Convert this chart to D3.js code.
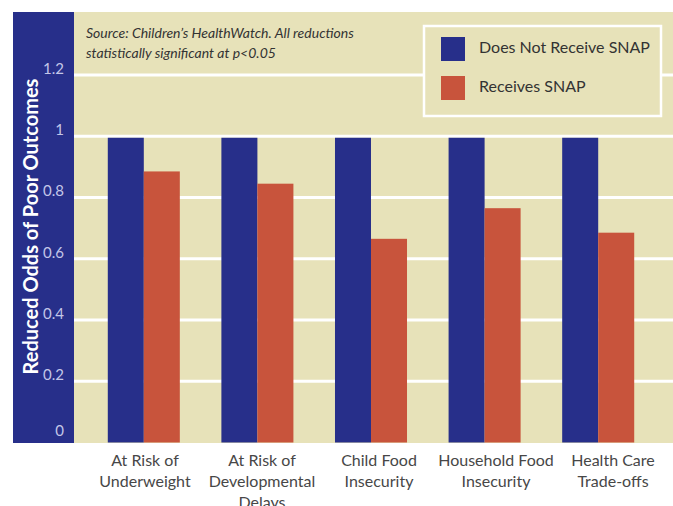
<!DOCTYPE html>
<html><head><meta charset="utf-8">
<script src="https://cdn.jsdelivr.net/npm/d3@7"></script>
<style>
html,body{margin:0;padding:0;background:#fff;}
svg{display:block;}
</style></head>
<body>
<script>
const categories = [
  ["At Risk of","Underweight"],
  ["At Risk of","Developmental","Delays"],
  ["Child Food","Insecurity"],
  ["Household Food","Insecurity"],
  ["Health Care","Trade-offs"]
];
const seriesNames = ["Does Not Receive SNAP","Receives SNAP"];
const notReceiving = [1, 1, 1, 1, 1];
const receiving = [0.89, 0.85, 0.67, 0.77, 0.69];
const yTicks = [0, 0.2, 0.4, 0.6, 0.8, 1, 1.2];
const yTickLabels = ["0","0.2","0.4","0.6","0.8","1","1.2"];
const sourceLines = ["Source: Children\u2019s HealthWatch. All reductions","statistically significant at p<0.05"];
const yTitle = "Reduced Odds of Poor Outcomes";

const W = 673, H = 506;
const navy = "#272f8a", red = "#c8543c", beige = "#e7e2b9";
const panel = {x0: 13, x1: 74, top: 12, bottom: 443};

const svg = d3.select("body").append("svg").attr("width", W).attr("height", H);
const keys = categories.map((c,i)=>i);

const y = d3.scaleLinear().domain([0, 1.2]).range([442.5, 75]);
const x0 = d3.scaleBand().domain(keys).range([87, 655]).paddingInner(0.366).paddingOuter(0.183);
const x1 = d3.scaleBand().domain([0,1]).range([0, x0.bandwidth()]);
const xLabel = d3.scalePoint().domain(keys).range([145, 613]);

// left navy panel
svg.append("rect").attr("x", panel.x0).attr("y", panel.top)
  .attr("width", panel.x1 - panel.x0).attr("height", panel.bottom - panel.top).attr("fill", navy);
// plot background
svg.append("rect").attr("x", panel.x1).attr("y", panel.top)
  .attr("width", W - panel.x1).attr("height", panel.bottom - panel.top).attr("fill", beige);

// gridlines
svg.append("g").selectAll("line").data(yTicks.filter(t=>t>0)).join("line")
  .attr("x1", panel.x1).attr("x2", W)
  .attr("y1", d=>y(d)).attr("y2", d=>y(d))
  .attr("stroke", "#fff").attr("stroke-width", 3);

// tick labels
svg.append("g").selectAll("text").data(yTicks).join("text")
  .attr("x", 64)
  .attr("y", d=>Math.min(y(d) - 5, 432))
  .attr("text-anchor", "end").attr("dominant-baseline", "middle")
  .attr("font-family", "Lato, 'Open Sans', sans-serif").attr("font-size", 15)
  .attr("fill", "#c3c6e8")
  .text((d,i)=>yTickLabels[i]);

// y title
svg.append("text")
  .attr("transform", `translate(37.5,226.5) rotate(-90)`)
  .attr("text-anchor", "middle")
  .attr("font-family", "Lato, 'Open Sans', sans-serif").attr("font-weight", "bold").attr("font-size", 20)
  .attr("fill", "#fff")
  .text(yTitle);

// bars
const groups = svg.append("g").selectAll("g").data(keys).join("g")
  .attr("transform", d=>`translate(${x0(d)},0)`);
groups.selectAll("rect").data(i=>[notReceiving[i], receiving[i]]).join("rect")
  .attr("x", (d,j)=>x1(j)).attr("width", x1.bandwidth())
  .attr("y", d=>y(d) + 1.5).attr("height", d=>y(0)-y(d) - 1.5)
  .attr("fill", (d,j)=> j===0 ? navy : red);

// category labels
const lab = svg.append("g").selectAll("text").data(keys).join("text")
  .attr("x", d=>xLabel(d)).attr("y", 466)
  .attr("text-anchor", "middle")
  .attr("font-family", "Lato, 'Open Sans', sans-serif").attr("font-size", 16)
  .attr("fill", "#474747");
lab.selectAll("tspan").data(d=>categories[d].map(t=>({t, x:xLabel(d)}))).join("tspan")
  .attr("x", d=>d.x).attr("dy", (d,i)=> i===0 ? 0 : 21).text(d=>d.t);

// source note
svg.append("g").selectAll("text").data(sourceLines).join("text")
  .attr("x", 86).attr("y", (d,i)=>38 + i*20)
  .attr("font-family", "Lato, 'Open Sans', sans-serif").attr("font-style", "italic").attr("font-size", 14)
  .attr("fill", "#333")
  .text(d=>d);

// legend
const leg = svg.append("g");
leg.append("rect").attr("x", 424).attr("y", 26).attr("width", 237).attr("height", 90)
  .attr("fill", beige).attr("stroke", "#fff").attr("stroke-width", 2.5);
const li = leg.selectAll("g").data(seriesNames).join("g")
  .attr("transform", (d,i)=>`translate(441,${37 + i*39})`);
li.append("rect").attr("width", 24).attr("height", 24).attr("fill", (d,i)=> i===0 ? navy : red);
li.append("text").attr("x", 38).attr("y", 12).attr("dominant-baseline", "middle")
  .attr("font-family", "Lato, 'Open Sans', sans-serif").attr("font-size", 16)
  .attr("fill", "#333").text(d=>d);
</script>
</body></html>
